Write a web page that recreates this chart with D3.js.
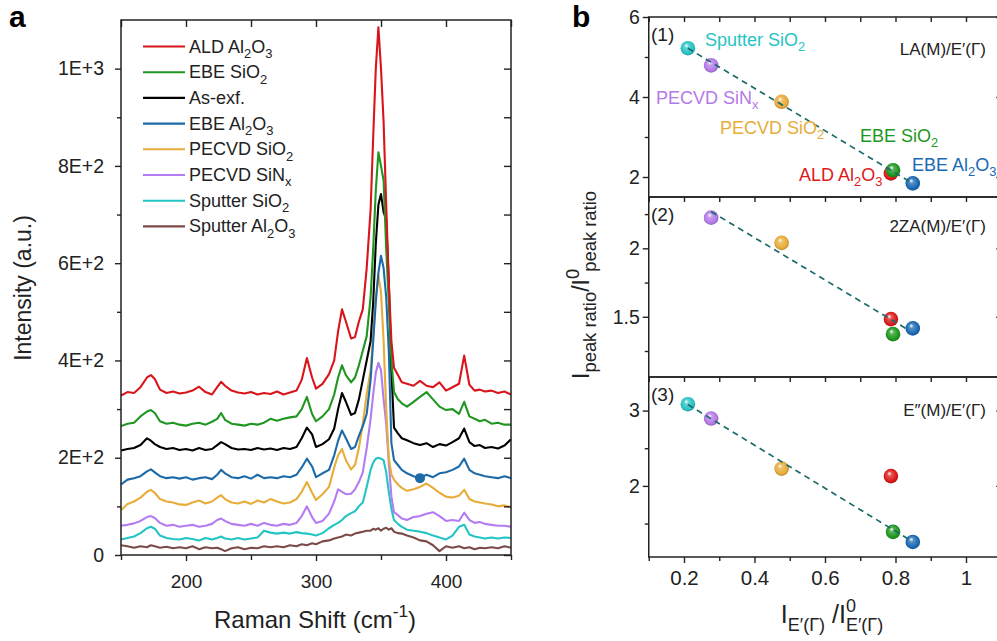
<!DOCTYPE html>
<html lang="en">
<head>
<meta charset="utf-8">
<title>Raman spectra and peak ratios</title>
<script src="https://cdn.jsdelivr.net/npm/d3@7"></script>
<style>
html, body { margin: 0; padding: 0; background: #fff; }
svg { display: block; font-family: "Liberation Sans", Arial, sans-serif; }
.axis path, .axis line { stroke: #222; stroke-width: 1.4; }
.axis text { fill: #222; }
</style>
</head>
<body>
<svg id="chart" width="997" height="641"></svg>
<script>
// ---- panel a : Raman spectra (shared shift grid, cm-1) ----
var shift = [150,155,160,165,170,173,176,180,185,190,195,200,205,210,215,220,224,227,230,235,
  240,245,250,255,260,265,270,275,280,285,289,293,297,300,305,310,314,317,320,323,
  327,330,333,336,339,342,344,346,348,350,352,354,356,358,360,363,366,370,375,380,
  385,390,395,400,405,410,414,418,422,426,430,435,440,445,450];

var aldAl2O3 = [328,335,333,345,365,370,362,340,333,336,332,334,338,346,335,330,345,356,348,338,
  334,332,335,330,333,331,336,330,334,338,360,405,365,342,352,372,400,460,505,480,
  445,448,480,505,590,710,860,1000,1085,1000,890,720,560,440,385,370,355,352,348,358,
  348,345,355,338,345,352,410,350,338,340,336,338,333,336,330];
var ebeSiO2 = [265,270,272,285,295,298,292,275,270,272,268,266,270,272,268,274,280,292,278,270,
  268,266,270,268,272,280,276,280,283,285,300,325,290,275,285,300,330,365,390,370,
  355,365,390,420,450,530,630,750,828,800,770,630,520,400,335,320,312,305,315,325,
  335,320,305,298,300,290,315,285,280,275,278,270,272,268,268];
var asExf = [215,218,220,226,240,235,228,222,218,220,216,218,215,220,216,218,226,232,228,220,
  217,218,216,220,217,219,216,220,218,222,240,262,248,222,228,238,260,300,333,315,
  288,292,320,360,400,440,520,640,720,742,705,690,560,380,262,250,240,236,230,226,
  230,222,228,225,232,240,260,232,224,226,220,222,219,225,238];
var ebeAl2O3 = [145,155,158,162,172,176,170,162,158,160,157,160,155,158,160,156,165,175,168,160,
  158,162,157,165,158,160,158,162,160,165,180,198,182,160,168,175,205,235,256,240,
  218,222,245,265,290,360,440,520,580,615,590,530,420,230,195,185,175,168,162,158,
  165,160,168,170,175,182,198,175,168,165,162,160,158,162,158];
var pecvdSiO2 = [92,105,110,118,130,134,128,115,110,108,104,103,108,112,106,110,118,123,115,108,
  106,110,105,112,108,115,110,106,108,115,130,150,128,113,125,140,180,205,218,195,
  176,185,220,270,330,380,450,530,575,540,440,300,200,165,155,145,138,132,135,140,
  147,138,128,120,118,122,134,115,110,108,106,104,100,102,98];
var pecvdSiNx = [60,62,65,70,78,80,76,66,60,62,58,60,62,58,60,64,72,75,70,64,
  62,60,64,60,66,62,60,64,62,66,80,100,78,66,70,85,110,135,130,125,
  126,135,150,170,220,280,330,375,395,380,320,270,190,120,88,82,75,72,78,80,
  85,88,80,70,72,70,87,72,66,68,64,62,60,60,58];
var sputterSiO2 = [32,35,38,45,55,58,54,40,35,33,32,35,33,30,35,32,35,38,34,32,
  35,32,34,36,50,46,44,46,44,47,45,44,42,40,45,55,62,66,72,80,
  86,90,100,108,140,175,190,198,200,198,195,170,130,95,72,64,58,52,50,48,
  45,40,36,32,40,58,62,42,38,36,34,36,34,36,35];
var sputterAl2O3 = [20,18,15,18,16,20,18,15,17,14,16,14,18,12,16,14,15,12,8,14,
  16,12,15,14,18,16,18,16,20,18,22,20,24,22,28,30,34,36,38,42,
  40,44,46,48,50,50,54,52,55,50,54,56,52,55,48,45,44,40,36,30,
  28,20,8,18,15,18,14,16,12,15,14,16,14,18,15];
var ebeAl2O3Dot = [[380, 158]];

var spectraNames = [
  [["ALD Al",""],["2","sub"],["O",""],["3","sub"]],
  [["EBE SiO",""],["2","sub"]],
  [["As-exf.",""]],
  [["EBE Al",""],["2","sub"],["O",""],["3","sub"]],
  [["PECVD SiO",""],["2","sub"]],
  [["PECVD SiN",""],["x","sub"]],
  [["Sputter SiO",""],["2","sub"]],
  [["Sputter Al",""],["2","sub"],["O",""],["3","sub"]]
];
var spectraColors = ["#d9151b","#1f961f","#000000","#1c6aa8","#e8ad38","#b47cf2","#25c4c4","#7b4a4a"];
var spectra = [aldAl2O3, ebeSiO2, asExf, ebeAl2O3, pecvdSiO2, pecvdSiNx, sputterSiO2, sputterAl2O3];
var intensityTicks = [0,200,400,600,800,1000];
var shiftTicks = [200,300,400];

// ---- panel b : peak ratios vs E'(Gamma) ratio ----
var materials = ["Sputter SiO2","PECVD SiNx","PECVD SiO2","ALD Al2O3","EBE SiO2","EBE Al2O3"];
var matColors = ["#27c3c6","#b47ae8","#e8ac3a","#dc1a1a","#1e981e","#1a69b3"];
var eRatio = [0.211,0.277,0.477,0.787,0.793,0.849];
var laRatio = [5.22,4.79,3.88,2.09,2.17,1.84];
var zaRatio = [null,2.224,2.04,1.483,1.373,1.415];
var e2Ratio = [3.085,2.894,2.23,2.13,1.39,1.256];
var fitX = [[0.211,0.845],[0.277,0.837],[0.211,0.845]];
var fitY = [[5.22,1.86],[2.268,1.403],[3.08,1.27]];
var panelTags = ["(1)","(2)","(3)"];
var panelRatios = ["LA(M)/E\u2032(\u0393)","2ZA(M)/E\u2032(\u0393)","E\u2033(M)/E\u2032(\u0393)"];
var ratioMajor = [[2,4,6],[1.5,2],[2,3]];
var ratioMinor = [[3,5],[1.25,1.75,2.25],[1.5,2.5]];
var ratioDomains = [[1.5,6],[1.06,2.375],[1.056,3.446]];
var eTicks = [0.2,0.4,0.6,0.8,1];

var svg = d3.select("#chart");

// text with sub/superscripts
function rich(sel, parts, size, ratio) {
  var cur = 0;
  ratio = ratio || 0.72;
  parts.forEach(function(p) {
    var target = p[1] === "sub" ? size * 0.3 : p[1] === "sup" ? -size * 0.45 : 0;
    var ts = sel.append("tspan").attr("dy", target - cur).text(p[0]);
    if (p[1]) ts.attr("font-size", size * ratio);
    if (p[2]) ts.attr("dx", p[2]);
    cur = target;
  });
  return sel;
}

function styleAxis(g, size) {
  g.attr("class", "axis").select(".domain").remove();
  g.selectAll("text").attr("font-size", size);
  return g;
}

// ================= panel a =================
var xA = d3.scaleLinear().domain([150,450]).range([121,511]);
var yA = d3.scaleLinear().domain([0,1100]).range([555,20]);

function eFmt(d) {
  if (d === 0) return "0";
  var e = Math.floor(Math.log10(d));
  return (d / Math.pow(10, e)) + "E+" + e;
}

var ga = svg.append("g");

var line = d3.line().x(function(d) { return xA(d[0]); }).y(function(d) { return yA(d[1]); });

// draw bottom series first so the top ones overlap like the original
for (var i = spectra.length - 1; i >= 0; i--) {
  ga.append("path")
    .datum(shift.map(function(s, k) { return [s, spectra[i][k]]; }))
    .attr("d", line)
    .attr("fill", "none")
    .attr("stroke", spectraColors[i])
    .attr("stroke-width", 2.1)
    .attr("stroke-linejoin", "round");
}
ga.selectAll(".dot").data(ebeAl2O3Dot).enter().append("circle")
  .attr("cx", function(d) { return xA(d[0]); })
  .attr("cy", function(d) { return yA(d[1]); })
  .attr("r", 5).attr("fill", "#1c6aa8");

styleAxis(ga.append("g").attr("transform", "translate(0,555)")
  .call(d3.axisBottom(xA).tickValues(shiftTicks).tickSize(6).tickPadding(14)), 19);
styleAxis(ga.append("g").attr("transform", "translate(0,555)")
  .call(d3.axisBottom(xA).tickValues([150,250,350,450]).tickSize(5).tickFormat("")), 19);
styleAxis(ga.append("g").attr("transform", "translate(0,20)")
  .call(d3.axisTop(xA).tickValues(d3.range(150,451,50)).tickSize(-7).tickFormat("")), 19);
styleAxis(ga.append("g").attr("transform", "translate(121,0)")
  .call(d3.axisLeft(yA).tickValues(intensityTicks).tickSize(6).tickPadding(11).tickFormat(eFmt)), 19.5);
styleAxis(ga.append("g").attr("transform", "translate(121,0)")
  .call(d3.axisLeft(yA).tickValues([100,300,500,700,900]).tickSize(4).tickFormat("")), 19);
styleAxis(ga.append("g").attr("transform", "translate(511,0)")
  .call(d3.axisRight(yA).tickValues(d3.range(0,1100,100)).tickSize(-7).tickFormat("")), 19);
ga.append("rect").attr("x", 121).attr("y", 20).attr("width", 390).attr("height", 535)
  .attr("fill", "none").attr("stroke", "#222").attr("stroke-width", 1.5);

// legend
var leg = ga.append("g");
spectraNames.forEach(function(nm, k) {
  var y = 46.5 + k * 25.7;
  leg.append("line").attr("x1", 143).attr("x2", 185).attr("y1", y).attr("y2", y)
    .attr("stroke", spectraColors[k]).attr("stroke-width", 2.1);
  rich(leg.append("text").attr("x", 189).attr("y", y + 6).attr("font-size", 18).attr("fill", "#222"), nm, 18);
});

ga.append("text").attr("transform", "translate(31,288) rotate(-90)")
  .attr("text-anchor", "middle").attr("font-size", 23).attr("fill", "#222").text("Intensity (a.u.)");
rich(ga.append("text").attr("x", 315).attr("y", 628).attr("text-anchor", "middle")
  .attr("font-size", 24).attr("fill", "#222"),
  [["Raman Shift (cm",""],["-1","sup"],[")",""]], 24);
ga.append("text").attr("x", 9).attr("y", 27).attr("font-size", 30).attr("font-weight", "bold").text("a");

// ================= panel b =================
var xB = d3.scaleLinear().domain([0.1,1.1]).range([648.75,1001.25]);
var panelTop = [17,197,377];
var panelH = 180;
var gb = svg.append("g");

var defs = svg.append("defs");
matColors.forEach(function(c, k) {
  var g = defs.append("radialGradient").attr("id", "ball" + k)
    .attr("cx", "50%").attr("cy", "50%").attr("r", "55%").attr("fx", "38%").attr("fy", "30%");
  g.append("stop").attr("offset", "0%").attr("stop-color", "#ffffff");
  g.append("stop").attr("offset", "28%").attr("stop-color", d3.interpolateRgb(c, "#fff")(0.25));
  g.append("stop").attr("offset", "75%").attr("stop-color", c);
  g.append("stop").attr("offset", "100%").attr("stop-color", d3.color(c).darker(0.9));
});

var ratioSets = [laRatio, zaRatio, e2Ratio];

ratioSets.forEach(function(vals, p) {
  var t = panelTop[p];
  var y = d3.scaleLinear().domain(ratioDomains[p]).range([t + panelH, t]);
  var g = gb.append("g");

  styleAxis(g.append("g").attr("transform", "translate(648.75,0)")
    .call(d3.axisLeft(y).tickValues(ratioMajor[p]).tickSize(6).tickPadding(3).tickFormat(d3.format("~g"))), 19.5);
  styleAxis(g.append("g").attr("transform", "translate(648.75,0)")
    .call(d3.axisLeft(y).tickValues(ratioMinor[p]).tickSize(4).tickFormat("")), 19);
  styleAxis(g.append("g").attr("transform", "translate(1001.25,0)")
    .call(d3.axisRight(y).tickValues(ratioMajor[p]).tickSize(-5).tickFormat("")), 19);
  styleAxis(g.append("g").attr("transform", "translate(0," + t + ")")
    .call(d3.axisTop(xB).tickValues(d3.range(1, 12).map(function(v) { return v / 10; })).tickSize(-5).tickFormat("")), 19);
  g.append("rect").attr("x", 648.75).attr("y", t).attr("width", 352.5).attr("height", panelH)
    .attr("fill", "none").attr("stroke", "#222").attr("stroke-width", 1.5);

  var pts = eRatio.map(function(e, k) { return {x: e, y: vals[k], k: k}; })
    .filter(function(d) { return d.y !== null; });
  g.selectAll(".ball").data(pts).enter().append("circle")
    .attr("cx", function(d) { return xB(d.x); })
    .attr("cy", function(d) { return y(d.y); })
    .attr("r", 7.3)
    .attr("fill", function(d) { return "url(#ball" + d.k + ")"; });

  g.append("line")
    .attr("x1", xB(fitX[p][0])).attr("y1", y(fitY[p][0]))
    .attr("x2", xB(fitX[p][1])).attr("y2", y(fitY[p][1]))
    .attr("stroke", "#1d6b6b").attr("stroke-width", 1.7).attr("stroke-dasharray", "6,4.5");

  g.append("text").attr("x", 651).attr("y", t + 24).attr("font-size", 19).attr("fill", "#222").text(panelTags[p]);
  g.append("text").attr("x", 986).attr("y", [55, 232, 416][p]).attr("text-anchor", "end")
    .attr("font-size", 17).attr("fill", "#222").text(panelRatios[p]);
});

// bottom x axis of panel b
styleAxis(gb.append("g").attr("transform", "translate(0,557)")
  .call(d3.axisBottom(xB).tickValues(eTicks).tickSize(6).tickPadding(7).tickFormat(d3.format("~g"))), 20.5);
styleAxis(gb.append("g").attr("transform", "translate(0,557)")
  .call(d3.axisBottom(xB).tickValues([0.1,0.3,0.5,0.7,0.9,1.1]).tickSize(4).tickFormat("")), 20);

// material labels in panel (1)
var labelPos = [[705,46],[656,104],[720,134],[799,181],[860,142],[912,171]];
var labelParts = [
  [["Sputter SiO",""],["2","sub"]],
  [["PECVD SiN",""],["x","sub"]],
  [["PECVD SiO",""],["2","sub"]],
  [["ALD Al",""],["2","sub"],["O",""],["3","sub"]],
  [["EBE SiO",""],["2","sub"]],
  [["EBE Al",""],["2","sub"],["O",""],["3","sub"]]
];
labelParts.forEach(function(parts, k) {
  rich(gb.append("text").attr("x", labelPos[k][0]).attr("y", labelPos[k][1])
    .attr("font-size", 18).attr("fill", matColors[k]), parts, 18);
});

// axis titles
rich(gb.append("text").attr("transform", "translate(589,285) rotate(-90)").attr("text-anchor", "middle")
  .attr("font-size", 23).attr("fill", "#222"),
  [["I",""],["peak ratio","sub"],["/I",""],["0","sup"],["peak ratio","sub",-3]], 23, 0.8);
rich(gb.append("text").attr("x", 832).attr("y", 623).attr("text-anchor", "middle")
  .attr("font-size", 25).attr("fill", "#222"),
  [["I",""],["E\u2032(\u0393)","sub"],[" /I",""],["0","sup"],["E\u2032(\u0393)","sub",-10]], 25);

gb.append("text").attr("x", 572).attr("y", 27).attr("font-size", 30).attr("font-weight", "bold").text("b");
</script>
</body>
</html>
